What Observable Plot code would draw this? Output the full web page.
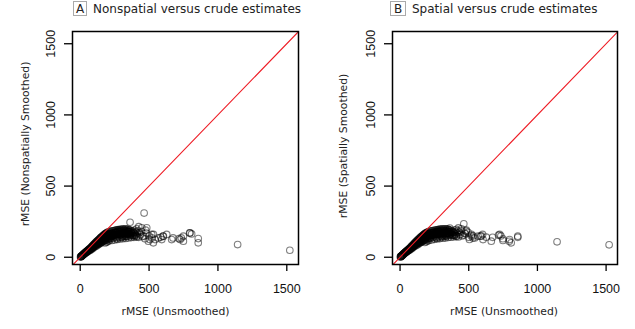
<!DOCTYPE html>
<html>
<head>
<meta charset="utf-8">
<script src="https://cdn.jsdelivr.net/npm/d3@7"></script>
<script src="https://cdn.jsdelivr.net/npm/@observablehq/plot@0.6"></script>
<style>
  html, body { margin: 0; padding: 0; background: #fff; }
  #wrap { position: relative; width: 635px; height: 329px; overflow: hidden; }
  .panel { position: absolute; top: 0; }
  .ttl { position: absolute; top: 1px; font-family: "DejaVu Sans", Verdana, sans-serif; font-size: 12px; line-height: 16px; color: #222; white-space: nowrap; }
  .tag { position: absolute; top: 1px; height: 13px; border: 1px solid #aaa; font-family: "DejaVu Sans", Verdana, sans-serif; font-size: 12px; line-height: 14px; text-align: center; color: #222; }
</style>
</head>
<body>
<div id="wrap"></div>
<script>
// Unsmoothed rMSE (shared x for both panels)
const xUnsmoothed = [
  2,4,5,7,8,10,11,13,15,16,
  18,20,22,24,25,27,29,31,33,35,
  37,39,41,43,45,47,49,51,53,55,
  57,59,61,63,65,67,69,71,73,75,
  77,79,81,83,85,87,89,91,93,95,
  97,99,101,103,105,107,109,111,113,115,
  117,119,121,123,125,127,129,131,133,135,
  137,139,141,143,145,147,149,151,153,155,
  157,160,162,164,166,168,170,172,174,176,
  178,180,182,184,186,188,190,192,194,196,
  198,200,203,206,209,212,215,218,221,224,
  227,230,233,236,239,242,245,248,251,254,
  257,260,263,266,269,272,275,278,281,284,
  287,290,293,296,299,302,305,308,311,314,
  317,320,323,326,329,332,335,338,341,344,
  347,350,354,358,362,366,370,375,380,385,
  390,395,400,405,410,415,420,425,430,438,
  445,452,362,464,447,483,519,531,495,520,
  532,544,568,592,604,628,664,717,725,749,
  749,797,809,857,857,1143,1522,410,425,470,
  460,480,500,505,475,601,674,734,795,585,
  120,130,140,150,160,170,180,190,200,210,
  220,230,240,250,260,270,280,290,300,310,
  320,330,340,350,360,370,380,390,400,410,
  205,215,225,235,245,255,265,275,285,295,
  305,315,325,335,345,355,365,375,385,395,
  100,110,125,135,145,155,165,175,185,195,
  40,50,60,70,80,90,180,190,200,210,
  60,70,80,90,100,110,120,130,140,150,
  160,170,180,190,200,210,220,230,240,250,
  260,270,280,290,300,310,320,330,340,350,
  215,245,275,305,335,365,395,265,325,355
];
// Panel A: nonspatially smoothed rMSE
const yNonspatial = [
  2,3,5,5,7,8,10,11,12,15,
  15,17,19,20,23,22,26,26,30,29,
  33,32,37,35,40,38,44,41,47,44,
  50,47,53,50,57,52,60,55,63,58,
  68,60,72,63,76,66,80,70,84,72,
  88,76,92,80,96,83,100,86,104,90,
  108,93,112,97,116,100,119,104,123,107,
  126,110,130,112,134,116,138,118,141,122,
  144,125,148,135,152,128,155,140,158,132,
  162,145,165,135,168,150,170,138,158,174,
  142,162,176,145,165,180,148,168,182,150,
  170,185,152,172,186,155,175,188,157,176,
  190,158,178,192,160,180,194,161,182,195,
  163,183,196,165,185,197,166,186,198,167,
  187,197,168,186,199,160,185,196,170,183,
  198,165,180,192,158,175,188,165,182,152,
  172,190,160,178,148,168,185,140,172,158,
  180,145,246,310,207,207,160,101,113,136,
  160,124,136,124,148,160,124,131,124,148,
  113,171,164,131,101,89,49,200,215,130,
  150,170,150,125,190,148,136,136,171,140,
  80,88,95,100,108,112,118,120,125,128,
  130,118,135,122,138,125,140,128,142,130,
  145,132,148,136,150,138,152,140,155,142,
  155,160,165,150,170,145,172,150,175,155,
  175,160,178,162,180,165,178,170,175,168,
  70,75,90,95,102,105,115,118,128,132,
  30,36,43,48,55,62,100,105,110,115,
  50,58,66,74,82,90,98,105,112,120,
  130,138,125,140,150,140,160,150,165,158,
  170,160,168,158,165,150,172,150,168,178,
  135,148,185,140,145,160,150,130,158,190
];
// Panel B: spatially smoothed rMSE
const ySpatial = [
  2,4,4,6,7,9,10,12,13,14,
  16,18,20,21,23,24,27,28,30,31,
  34,35,38,37,41,40,45,43,48,46,
  51,49,55,52,58,55,62,58,65,61,
  70,63,74,66,78,69,82,72,85,75,
  90,79,94,82,98,86,102,89,106,93,
  110,96,114,100,118,103,121,107,125,110,
  128,113,132,116,136,119,140,122,143,125,
  146,128,150,138,153,131,157,143,160,136,
  163,148,166,139,169,152,171,141,162,175,
  146,165,178,149,168,182,151,170,184,153,
  172,186,155,174,188,158,177,189,160,178,
  191,161,180,193,163,181,195,164,183,196,
  165,184,197,167,186,198,168,187,199,169,
  188,198,170,187,200,162,186,197,172,184,
  199,167,181,193,160,176,189,166,183,154,
  174,191,162,179,150,170,186,143,174,160,
  185,150,205,235,200,190,150,135,175,160,
  150,136,148,150,124,141,113,155,160,118,
  130,124,101,148,140,108,87,195,206,170,
  155,183,140,125,165,160,140,150,112,148,
  84,90,98,104,110,115,120,124,128,131,
  133,122,138,126,140,128,143,131,145,134,
  148,135,150,139,153,141,155,143,157,145,
  158,162,168,153,172,148,175,153,178,158,
  178,163,181,165,183,168,181,173,178,171,
  73,79,94,99,106,109,118,122,131,135,
  32,38,45,51,58,65,104,109,114,118,
  52,60,68,76,84,92,100,108,115,122,
  133,140,128,143,152,143,162,153,167,160,
  172,162,170,160,167,152,174,153,170,180,
  138,150,187,143,148,162,152,133,160,192
];
const tickValues = [0, 500, 1000, 1500];
const diagonal = [-200, 1800];
const xLabel = "rMSE (Unsmoothed)";
const panels = [
  {tag: "A", title: "Nonspatial versus crude estimates", yLabel: "rMSE (Nonspatially Smoothed)", ys: yNonspatial,
   left: 0, width: 317, ml: 72, mr: 19, xDom: [-56, 1585], tagLeft: 73, tagW: 12, titleLeft: 93, xlDx: -10, ylDx: -47, ylDy: -4},
  {tag: "B", title: "Spatial versus crude estimates", yLabel: "rMSE (Spatially Smoothed)", ys: ySpatial,
   left: 317, width: 318, ml: 75, mr: 18, xDom: [-55, 1583], tagLeft: 390, tagW: 14, titleLeft: 412, xlDx: -1, ylDx: -49, ylDy: -2}
];
const wrap = document.getElementById("wrap");
for (const p of panels) {
  const idx = d3.range(xUnsmoothed.length);
  const chart = Plot.plot({
    width: p.width, height: 329,
    marginLeft: p.ml, marginRight: p.mr, marginTop: 31, marginBottom: 65,
    style: {fontFamily: "'Liberation Sans', Arial, sans-serif", background: "transparent", color: "#111"},
    x: {domain: p.xDom},
    y: {domain: [-51, 1586]},
    marks: [
      Plot.dot(idx, {x: i => xUnsmoothed[i], y: i => p.ys[i], r: 3.3, stroke: "#000", strokeOpacity: 0.5, strokeWidth: 1.1, fill: "none"}),
      Plot.line(diagonal, {x: d => d, y: d => d, stroke: "#ee1c25", strokeWidth: 1.1, clip: true}),
      Plot.frame({stroke: "#000", strokeWidth: 1.5}),
      Plot.axisX(tickValues, {tickSize: 7, tickPadding: 17, lineAnchor: "middle", fontSize: 12.5, label: null, tickFormat: d => String(d), stroke: "#000", strokeWidth: 1.3}),
      Plot.axisY(tickValues, {tickSize: 8, tickPadding: 14, tickRotate: -90, textAnchor: "middle", lineAnchor: "middle", fontSize: 12.5, label: null, tickFormat: d => String(d), stroke: "#000", strokeWidth: 1.3}),
      Plot.text([xLabel], {frameAnchor: "bottom", dy: 50, dx: p.xlDx, textAnchor: "middle", fontSize: 10.8, fontFamily: "DejaVu Sans, Verdana, sans-serif", fill: "#222"}),
      Plot.text([p.yLabel], {frameAnchor: "left", dx: p.ylDx, dy: p.ylDy, rotate: -90, textAnchor: "middle", fontSize: 10.8, fontFamily: "DejaVu Sans, Verdana, sans-serif", fill: "#222"})
    ]
  });
  const holder = document.createElement("div");
  holder.className = "panel";
  holder.style.left = p.left + "px";
  holder.appendChild(chart);
  wrap.appendChild(holder);
  const tag = document.createElement("div");
  tag.className = "tag";
  tag.style.left = p.tagLeft + "px";
  tag.style.width = p.tagW + "px";
  tag.textContent = p.tag;
  wrap.appendChild(tag);
  const ttl = document.createElement("div");
  ttl.className = "ttl";
  ttl.style.left = p.titleLeft + "px";
  ttl.textContent = p.title;
  wrap.appendChild(ttl);
}
</script>
</body>
</html>
